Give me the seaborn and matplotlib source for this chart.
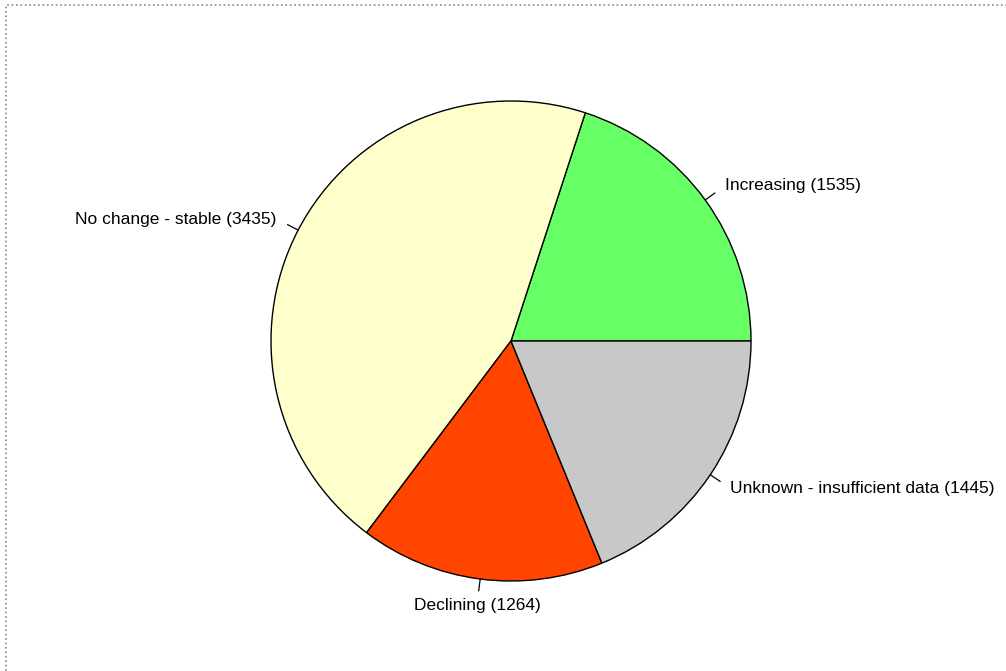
import numpy as np
import seaborn as sns
import matplotlib.pyplot as plt
from matplotlib.patches import Rectangle

sns.set_style("white")
plt.rcParams['font.family'] = ['Liberation Sans', 'DejaVu Sans']

labels = ['Increasing', 'No change - stable', 'Declining', 'Unknown - insufficient data']
counts = [1535, 3435, 1264, 1445]
colors = ['#66FF66', '#FFFFCC', '#FF4500', '#C8C8C8']

fig = plt.figure(figsize=(10.06, 6.71), dpi=100)
ax = fig.add_axes([0, 0, 1, 1])

# pie centre / radius in pixels, used only for framing the axes
cx, cy, r = 511, 341, 240
W, H = 1006, 671

texts = [f"{l} ({c})" for l, c in zip(labels, counts)]
wedges, txt = ax.pie(counts, colors=colors, startangle=0, counterclock=True,
                     labels=texts, labeldistance=1.1,
                     wedgeprops=dict(edgecolor='black', linewidth=1),
                     textprops=dict(fontsize=12.5, color='black'))

# small tick lines like base R pie
for w in wedges:
    ang = np.deg2rad((w.theta1 + w.theta2) / 2)
    ax.plot([np.cos(ang), 1.05 * np.cos(ang)], [np.sin(ang), 1.05 * np.sin(ang)],
            color='black', lw=0.9)

# bottom label sits centred under its tick
txt[2].set_ha('center')
txt[2].set_va('top')
x2, y2 = txt[2].get_position()
txt[2].set_position((x2, y2 + 0.02))

ax.set_xlim(-cx / r, (W - cx) / r)
ax.set_ylim(-(H - cy) / r, cy / r)
ax.set_aspect('equal')
ax.axis('off')

# dotted outer frame (right/bottom edges run off the image)
fig.patches.append(Rectangle((6 / W, -0.1), 1.2, 1 - 5 / H + 0.1, transform=fig.transFigure,
                             fill=False, edgecolor='#888888', linestyle=':', linewidth=1.2))

fig.savefig("out.png", dpi=100)
